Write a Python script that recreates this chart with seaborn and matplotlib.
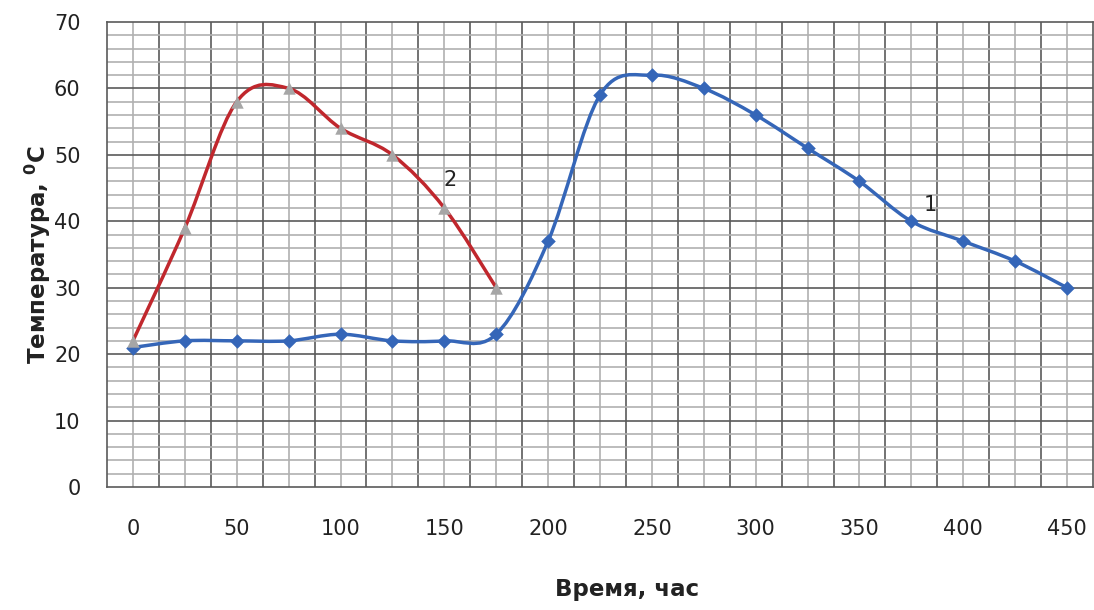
import matplotlib
matplotlib.use('Agg')
import matplotlib.pyplot as plt
from matplotlib.path import Path
from matplotlib.patches import PathPatch
import numpy as np
import pandas as pd
import seaborn as sns

# Данные
hours_1 = [0, 25, 50, 75, 100, 125, 150, 175, 200, 225, 250, 275, 300, 325, 350, 375, 400, 425, 450]
temp_1 = [21, 22, 22, 22, 23, 22, 22, 23, 37, 59, 62, 60, 56, 51, 46, 40, 37, 34, 30]
hours_2 = [0, 25, 50, 75, 100, 125, 150, 175]
temp_2 = [22, 39, 58, 60, 54, 50, 42, 30]
x_ticks = [0, 50, 100, 150, 200, 250, 300, 350, 400, 450]
y_ticks = [0, 10, 20, 30, 40, 50, 60, 70]

BLUE = '#3566b8'
RED = '#c0272d'
GRAY = '#a6a6a6'


def smooth_path(xs, ys):
    # сглаженная линия как в Excel (кубические Безье через точки)
    pts = np.column_stack([xs, ys]).astype(float)
    verts = [pts[0]]
    codes = [Path.MOVETO]
    n = len(pts)
    for i in range(n - 1):
        p0 = pts[i - 1] if i > 0 else pts[i]
        p1 = pts[i]
        p2 = pts[i + 1]
        p3 = pts[i + 2] if i + 2 < n else pts[i + 1]
        c1 = p1 + (p2 - p0) / 6
        c2 = p2 - (p3 - p1) / 6
        verts += [c1, c2, p2]
        codes += [Path.CURVE4] * 3
    return Path(verts, codes)


df1 = pd.DataFrame({'hours': hours_1, 'temp': temp_1})
df2 = pd.DataFrame({'hours': hours_2, 'temp': temp_2})

sns.set_style('white')
plt.rcParams['font.family'] = ['DejaVu Sans']

fig = plt.figure(figsize=(10.94, 6.10), dpi=100)
ax = fig.add_axes([107 / 1094, 123 / 610, 986 / 1094, 465 / 610])

ax.set_xlim(-12.5, 462.5)
ax.set_ylim(0, 70)

# сетка
for xv in np.arange(0, 451, 25):
    ax.axvline(xv, color='#b0b0b0', lw=1.2, zorder=0)
for xv in np.arange(12.5, 451, 25):
    ax.axvline(xv, color='#5a5a5a', lw=1.2, zorder=0)
for yv in np.arange(2, 70, 2):
    if yv % 10:
        ax.axhline(yv, color='#b0b0b0', lw=1.2, zorder=0)
for yv in np.arange(10, 70, 10):
    ax.axhline(yv, color='#5a5a5a', lw=1.2, zorder=0)

for s in ax.spines.values():
    s.set_color('#5a5a5a')
    s.set_linewidth(1.2)

# линии
ax.add_patch(PathPatch(smooth_path(hours_1, temp_1), fill=False, edgecolor=BLUE, lw=2.5, zorder=3))
ax.add_patch(PathPatch(smooth_path(hours_2, temp_2), fill=False, edgecolor=RED, lw=2.5, zorder=3))

# маркеры
sns.scatterplot(data=df1, x='hours', y='temp', marker='D', s=55, color=BLUE,
                edgecolor=BLUE, linewidth=0, ax=ax, zorder=4)
sns.scatterplot(data=df2, x='hours', y='temp', marker='^', s=80, color=GRAY,
                edgecolor=GRAY, linewidth=0, ax=ax, zorder=4)

ax.text(153, 46.2, '2', fontsize=15, color='#222222', ha='center', va='center', zorder=5)
ax.text(384, 42.5, '1', fontsize=15, color='#222222', ha='center', va='center', zorder=5)

ax.set_xticks(x_ticks)
ax.set_yticks(y_ticks)
ax.tick_params(axis='both', length=0, labelsize=15, labelcolor='#222222')
ax.tick_params(axis='y', pad=19)
ax.tick_params(axis='x', pad=23)

ax.set_xlabel('Время, час', fontsize=16.5, fontweight='bold', color='#222222', labelpad=28)
ax.xaxis.label.set_x(0.527)
ax.set_ylabel('Температура, $^{\\mathbf{0}}$C', fontsize=16.5, fontweight='bold',
              color='#222222', labelpad=1)

fig.savefig('out.png', dpi=100)
